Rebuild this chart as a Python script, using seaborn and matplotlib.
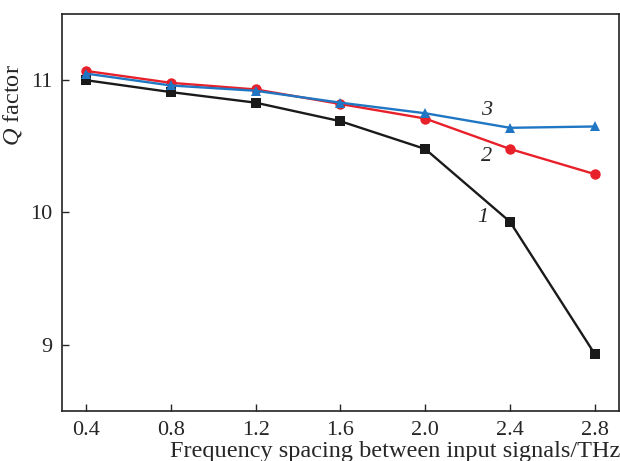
import matplotlib
matplotlib.use("Agg")
import matplotlib.pyplot as plt
import seaborn as sns
import pandas as pd

spacing = [0.4, 0.8, 1.2, 1.6, 2.0, 2.4, 2.8]
q_curve1 = [11.00, 10.91, 10.83, 10.69, 10.48, 9.93, 8.93]
q_curve2 = [11.07, 10.98, 10.93, 10.82, 10.71, 10.48, 10.29]
q_curve3 = [11.05, 10.96, 10.92, 10.83, 10.75, 10.64, 10.65]
curve_labels = ["1", "2", "3"]
x_ticks = [0.4, 0.8, 1.2, 1.6, 2.0, 2.4, 2.8]
x_tick_labels = ["0.4", "0.8", "1.2", "1.6", "2.0", "2.4", "2.8"]
y_ticks = [9, 10, 11]

sns.set_style("ticks")
plt.rcParams['font.family'] = ['Liberation Serif', 'DejaVu Serif']
plt.rcParams['mathtext.fontset'] = 'custom'
plt.rcParams['mathtext.it'] = 'Liberation Serif:italic'
plt.rcParams['mathtext.rm'] = 'Liberation Serif'

df = pd.concat([
    pd.DataFrame({"x": spacing, "q": q_curve1, "curve": curve_labels[0]}),
    pd.DataFrame({"x": spacing, "q": q_curve2, "curve": curve_labels[1]}),
    pd.DataFrame({"x": spacing, "q": q_curve3, "curve": curve_labels[2]}),
])

fig = plt.figure(figsize=(6.2, 4.61), dpi=100)
ax = fig.add_axes([0.1, 0.1085, 0.898, 0.8611])

palette = {"1": "#1a1a1a", "2": "#e8202a", "3": "#1f77c4"}
markers = {"1": "s", "2": "o", "3": "^"}
sns.lineplot(data=df, x="x", y="q", hue="curve", style="curve",
             palette=palette, markers=markers, dashes=False,
             markersize=7.5, markeredgewidth=0, linewidth=1.7,
             legend=False, ax=ax, sort=False)

ax.set_xlim(0.287, 2.913)
ax.set_ylim(8.5, 11.5)
ax.set_xticks(x_ticks)
ax.set_xticklabels(x_tick_labels)
ax.set_yticks(y_ticks)
ax.tick_params(direction="in", length=5, width=1, labelsize=16, pad=7,
               top=False, right=False)
for s in ax.spines.values():
    s.set_linewidth(1.2)
    s.set_color("#222222")

ax.set_xlabel("Frequency spacing between input signals/THz", fontsize=17.5,
              ha="right")
ax.xaxis.set_label_coords(1.003, -0.075)
ax.set_ylabel(r"$Q$ factor", fontsize=17.5)
ax.yaxis.set_label_coords(-0.068, 0.771)

ax.text(2.29, 10.77, "3", fontsize=16, style="italic", ha="center", va="center")
ax.text(2.29, 10.42, "2", fontsize=16, style="italic", ha="center", va="center")
ax.text(2.27, 9.96, "1", fontsize=16, style="italic", ha="center", va="center")

fig.savefig("out.png", dpi=100)
